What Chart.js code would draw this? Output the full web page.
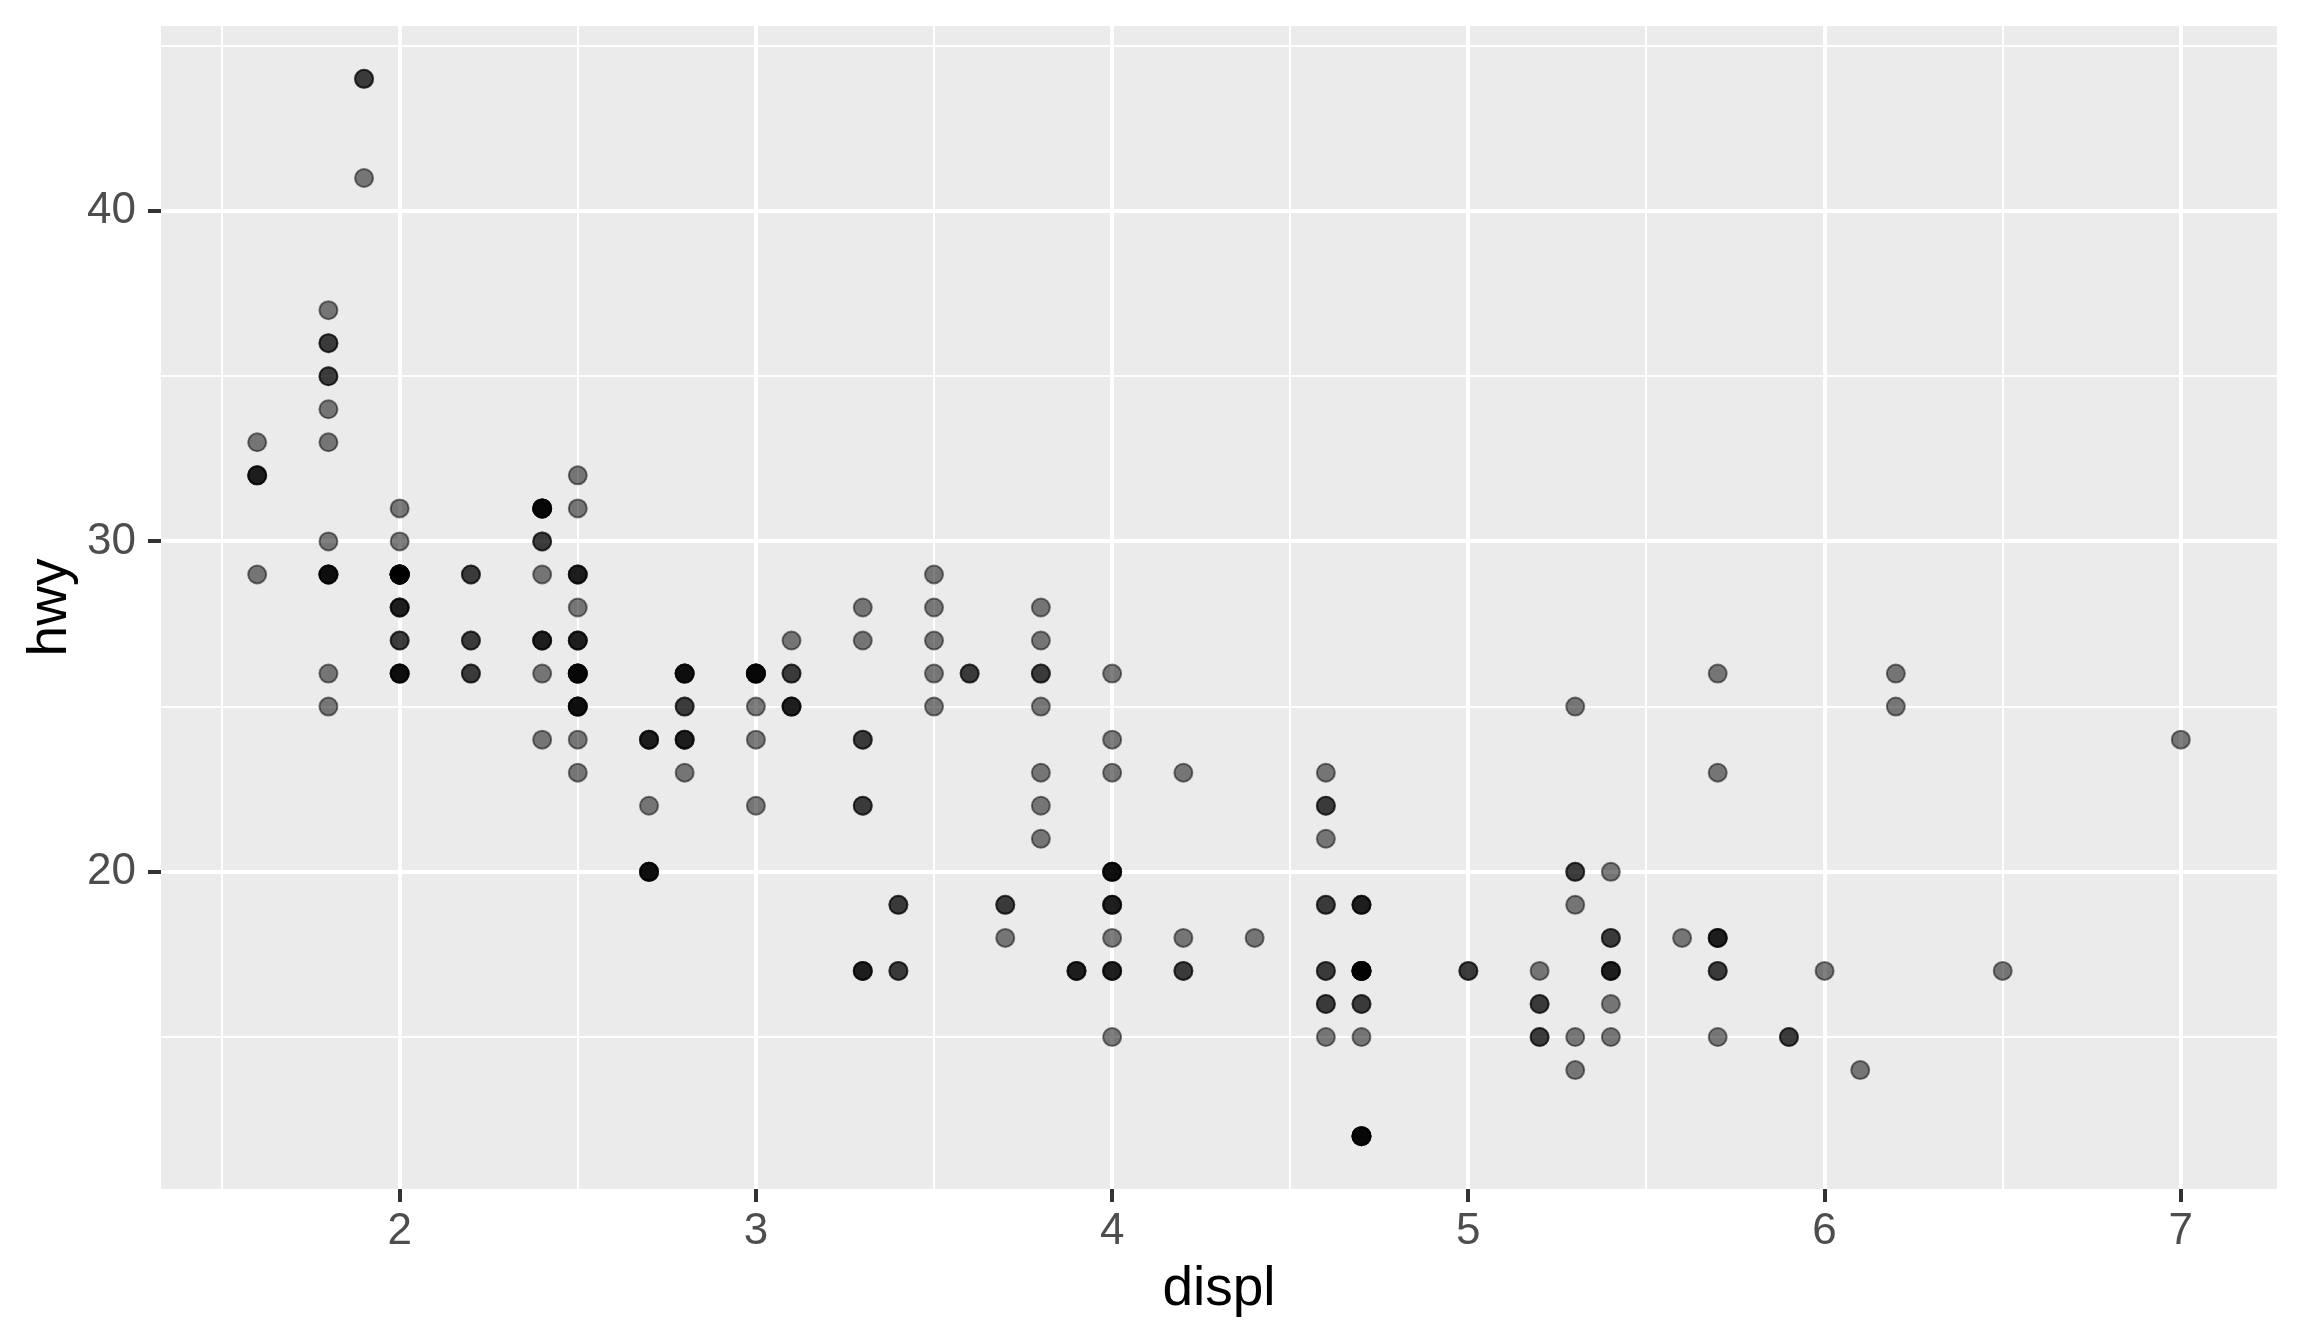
<!DOCTYPE html>
<html>
<head>
<meta charset="utf-8">
<title>hwy vs displ</title>
<script src="https://cdn.jsdelivr.net/npm/chart.js@4/dist/chart.umd.min.js"></script>
<style>
  html, body { margin: 0; padding: 0; background: #ffffff; }
  #wrap { width: 2304px; height: 1344px; }
</style>
</head>
<body>
<div id="wrap"><canvas id="myChart" width="2304" height="1344"></canvas></div>
<script>
// engine displacement (litres), one entry per car
const displ = [
  1.8, 1.8, 2.0, 2.0, 2.8, 2.8, 3.1, 1.8, 1.8, 2.0, 2.0, 2.8, 2.8, 3.1, 3.1, 2.8, 3.1, 4.2,
  5.3, 5.3, 5.3, 5.7, 6.0, 5.7, 5.7, 6.2, 6.2, 7.0, 5.3, 5.3, 5.7, 6.5, 2.4, 2.4, 3.1, 3.5, 3.6,
  2.4, 3.0, 3.3, 3.3, 3.3, 3.3, 3.3, 3.8, 3.8, 3.8, 4.0,
  3.7, 3.7, 3.9, 3.9, 4.7, 4.7, 4.7, 5.2, 5.2,
  3.9, 4.7, 4.7, 4.7, 5.2, 5.9, 5.7,
  4.7, 4.7, 4.7, 4.7, 4.7, 4.7, 5.2, 5.2, 5.7, 5.9,
  4.6, 5.4, 5.4, 4.0, 4.0, 4.0, 4.0, 4.6, 5.0, 4.2, 4.2, 4.6, 4.6, 4.6, 5.4, 5.4,
  3.8, 3.8, 4.0, 4.0, 4.6, 4.6, 4.6, 4.6, 5.4,
  1.6, 1.6, 1.6, 1.6, 1.6, 1.8, 1.8, 1.8, 2.0,
  2.4, 2.4, 2.4, 2.4, 2.5, 2.5, 3.3, 2.0, 2.0, 2.0, 2.0, 2.7, 2.7, 2.7,
  3.0, 3.7, 4.0, 4.7, 4.7, 4.7, 5.7, 6.1,
  4.0, 4.2, 4.4, 4.6,
  5.4, 5.4, 5.4,
  4.0, 4.0, 4.6, 5.0,
  2.4, 2.4, 2.5, 2.5, 3.5, 3.5, 3.0, 3.0, 3.5, 3.3, 3.3, 4.0, 5.6,
  3.1, 3.8, 3.8, 3.8, 5.3,
  2.5, 2.5, 2.5, 2.5, 2.5, 2.5, 2.2, 2.2, 2.5, 2.5, 2.5, 2.5, 2.5, 2.5,
  2.7, 2.7, 3.4, 3.4, 4.0, 4.7, 2.2, 2.2, 2.4, 2.4, 3.0, 3.0, 3.5,
  2.2, 2.2, 2.4, 2.4, 3.0, 3.0, 3.3, 1.8, 1.8, 1.8, 1.8, 1.8, 4.7, 5.7,
  2.7, 2.7, 2.7, 3.4, 3.4, 4.0, 4.0,
  2.0, 2.0, 2.0, 2.0, 2.8, 1.9, 2.0, 2.0, 2.0, 2.0, 2.5, 2.5, 2.8, 2.8,
  1.9, 1.9, 2.0, 2.0, 2.5, 2.5, 1.8, 1.8, 2.0, 2.0, 2.8, 2.8, 3.6
];

// highway miles per gallon, same order as displ
const hwy = [
  29, 29, 31, 30, 26, 26, 27, 26, 25, 28, 27, 25, 25, 25, 25, 24, 25, 23,
  20, 15, 20, 17, 17, 26, 23, 26, 25, 24, 19, 14, 15, 17, 27, 30, 26, 29, 26,
  24, 24, 22, 22, 24, 24, 17, 22, 21, 23, 23,
  19, 18, 17, 17, 19, 19, 12, 17, 15,
  17, 17, 12, 17, 16, 15, 18,
  16, 12, 17, 17, 16, 12, 15, 16, 17, 15,
  17, 17, 18, 17, 19, 17, 19, 19, 17, 17, 17, 16, 16, 17, 15, 17,
  26, 25, 26, 24, 21, 22, 23, 22, 20,
  33, 32, 32, 29, 32, 34, 36, 36, 29,
  26, 27, 30, 31, 26, 26, 28, 26, 29, 28, 27, 24, 24, 24,
  22, 19, 20, 17, 12, 19, 18, 14,
  15, 18, 18, 15,
  17, 16, 18,
  17, 19, 19, 17,
  29, 27, 31, 32, 27, 26, 26, 25, 25, 17, 17, 20, 18,
  26, 26, 27, 28, 25,
  25, 24, 27, 25, 26, 23, 26, 26, 26, 26, 25, 27, 25, 27,
  20, 20, 19, 17, 20, 17, 29, 27, 31, 31, 26, 26, 28,
  27, 29, 31, 31, 26, 26, 27, 30, 33, 35, 37, 35, 15, 18,
  20, 20, 22, 17, 19, 18, 20,
  29, 26, 29, 29, 24, 44, 29, 26, 29, 29, 29, 29, 23, 24,
  44, 41, 29, 26, 28, 29, 29, 29, 28, 29, 26, 26, 26
];

// labelled breaks, the half steps in between get a thin gridline only
const xBreaks = [2, 3, 4, 5, 6, 7];
const yBreaks = [20, 30, 40];

const xTitle = 'displ';
const yTitle = 'hwy';

const points = displ.map((d, i) => ({ x: d, y: hwy[i] }));

// grey panel behind the grid
const panelBackground = {
  id: 'panelBackground',
  beforeDraw(chart) {
    const { ctx, chartArea } = chart;
    ctx.save();
    ctx.fillStyle = '#EBEBEB';
    ctx.fillRect(chartArea.left, chartArea.top, chartArea.right - chartArea.left, chartArea.bottom - chartArea.top);
    ctx.restore();
  }
};

function isMajor(list, value) {
  return list.some(b => Math.abs(b - value) < 1e-6);
}

const tickFont = { family: '"Liberation Sans", Arial, sans-serif', size: 44 };
const titleFont = { family: '"Liberation Sans", Arial, sans-serif', size: 55 };

const ctx = document.getElementById('myChart').getContext('2d');
const myChart = new Chart(ctx, {
  type: 'scatter',
  data: {
    datasets: [{
      data: points,
      backgroundColor: 'rgba(0, 0, 0, 0.5)',
      borderColor: 'rgba(0, 0, 0, 0.5)',
      borderWidth: 2,
      pointRadius: 9,
      pointHoverRadius: 9
    }]
  },
  options: {
    responsive: false,
    animation: false,
    devicePixelRatio: 1,
    events: [],
    layout: { padding: { top: 26, right: 27, left: 0, bottom: 0 } },
    plugins: {
      legend: { display: false },
      tooltip: { enabled: false }
    },
    scales: {
      x: {
        type: 'linear',
        position: 'bottom',
        min: 1.33,
        max: 7.27,
        border: { display: false },
        afterFit: scale => {
          scale.height = 155;
          scale.paddingLeft = 0;
          scale.paddingRight = 0;
        },
        grid: {
          color: '#FFFFFF',
          lineWidth: c => isMajor(xBreaks, c.tick.value) ? 4 : 2,
          tickColor: c => isMajor(xBreaks, c.tick.value) ? '#333333' : 'rgba(0,0,0,0)',
          tickWidth: 4,
          tickLength: 13
        },
        ticks: {
          stepSize: 0.5,
          includeBounds: false,
          autoSkip: false,
          maxRotation: 0,
          padding: 3,
          color: '#4D4D4D',
          font: tickFont,
          callback: v => isMajor(xBreaks, v) ? String(v) : ''
        },
        title: {
          display: true,
          text: xTitle,
          color: '#000000',
          font: titleFont,
          padding: { top: 0, bottom: 21 }
        }
      },
      y: {
        type: 'linear',
        position: 'left',
        min: 10.4,
        max: 45.6,
        border: { display: false },
        afterFit: scale => {
          scale.width = 161;
          scale.paddingTop = 0;
          scale.paddingBottom = 0;
        },
        grid: {
          color: '#FFFFFF',
          lineWidth: c => isMajor(yBreaks, c.tick.value) ? 4 : 2,
          tickColor: c => isMajor(yBreaks, c.tick.value) ? '#333333' : 'rgba(0,0,0,0)',
          tickWidth: 4,
          tickLength: 13
        },
        ticks: {
          stepSize: 5,
          includeBounds: false,
          autoSkip: false,
          padding: 12,
          color: '#4D4D4D',
          font: tickFont,
          callback: v => isMajor(yBreaks, v) ? String(v) : ''
        },
        title: {
          display: true,
          text: yTitle,
          color: '#000000',
          font: titleFont,
          padding: { top: 18, bottom: 0 }
        }
      }
    }
  },
  plugins: [panelBackground]
});
</script>
</body>
</html>
